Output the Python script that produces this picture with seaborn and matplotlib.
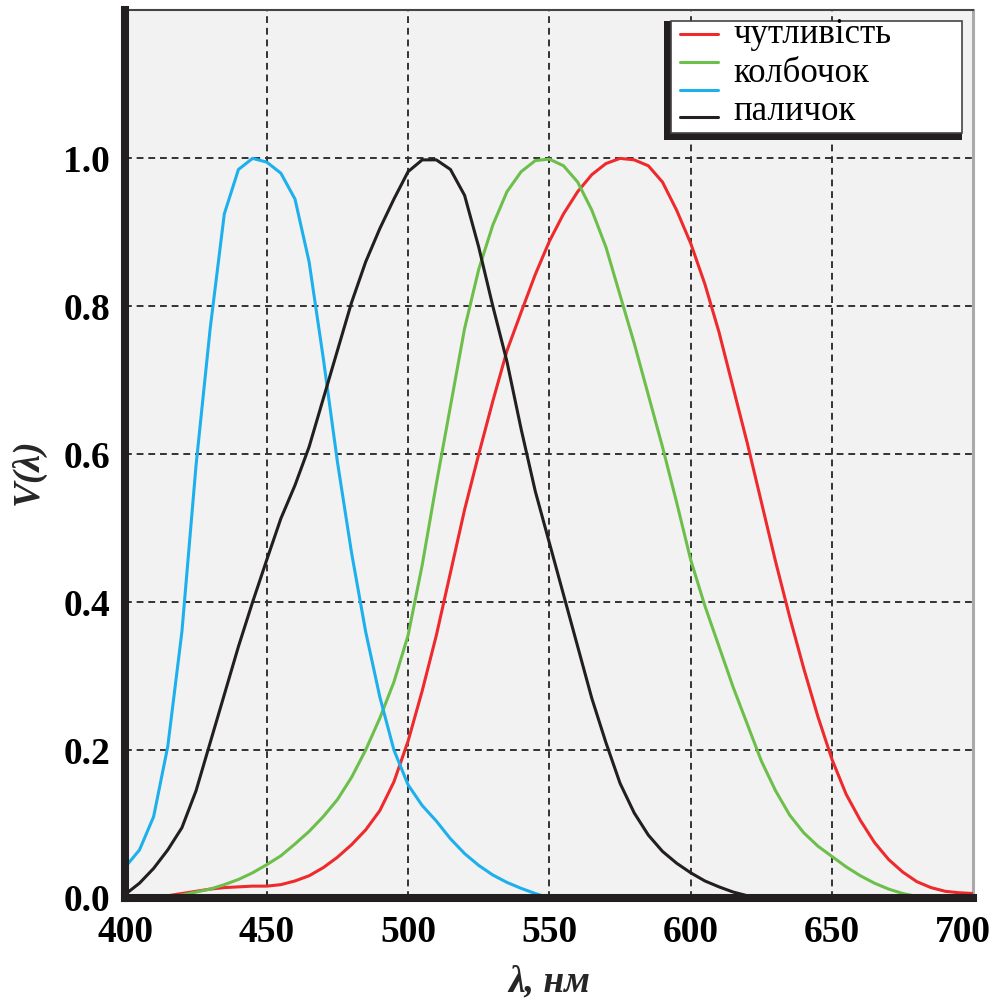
import numpy as np
import pandas as pd
import matplotlib
matplotlib.use("Agg")
import matplotlib.pyplot as plt
from matplotlib.patches import Rectangle
from matplotlib.lines import Line2D
from matplotlib.transforms import ScaledTranslation
import seaborn as sns

# ---------------- data ----------------
wl_red = list(range(400, 705, 5))
red = [0.000, 0.000, 0.001, 0.003, 0.006, 0.009, 0.012, 0.014, 0.015, 0.016,
       0.016, 0.018, 0.023, 0.030, 0.041, 0.055, 0.072, 0.092, 0.118, 0.157,
       0.212, 0.280, 0.355, 0.440, 0.525, 0.600, 0.672, 0.740, 0.792, 0.843,
       0.888, 0.925, 0.955, 0.978, 0.993, 1.000, 0.998, 0.990, 0.968, 0.930,
       0.885, 0.830, 0.765, 0.690, 0.615, 0.535, 0.455, 0.380, 0.310, 0.245,
       0.187, 0.140, 0.105, 0.075, 0.052, 0.035, 0.022, 0.014, 0.009, 0.007,
       0.006]

wl_green = list(range(400, 690, 5))
green = [0.000, 0.000, 0.000, 0.001, 0.004, 0.008, 0.012, 0.018, 0.025, 0.034,
         0.045, 0.057, 0.073, 0.090, 0.110, 0.133, 0.163, 0.200, 0.243, 0.292,
         0.355, 0.450, 0.560, 0.665, 0.770, 0.850, 0.910, 0.955, 0.982, 0.997,
         0.999, 0.990, 0.968, 0.930, 0.880, 0.815, 0.750, 0.680, 0.610, 0.535,
         0.457, 0.395, 0.340, 0.285, 0.235, 0.185, 0.145, 0.112, 0.088, 0.070,
         0.056, 0.042, 0.030, 0.020, 0.012, 0.006, 0.002, 0.000]

wl_blue = list(range(400, 555, 5))
blue = [0.042, 0.065, 0.110, 0.205, 0.360, 0.585, 0.770, 0.925, 0.985, 1.000,
        0.995, 0.980, 0.945, 0.860, 0.730, 0.590, 0.467, 0.360, 0.272, 0.200,
        0.153, 0.125, 0.104, 0.080, 0.060, 0.044, 0.031, 0.021, 0.013, 0.006,
        0.000]

wl_black = list(range(400, 630, 5))
black = [0.005, 0.020, 0.040, 0.065, 0.095, 0.145, 0.210, 0.275, 0.340, 0.400,
         0.457, 0.513, 0.558, 0.610, 0.675, 0.740, 0.805, 0.860, 0.905, 0.945,
         0.982, 0.998, 0.998, 0.985, 0.950, 0.880, 0.800, 0.725, 0.634, 0.550,
         0.480, 0.410, 0.340, 0.270, 0.210, 0.155, 0.115, 0.085, 0.063, 0.047,
         0.034, 0.023, 0.015, 0.008, 0.003, 0.000]

legend_labels = ["чутливість", "колбочок", "паличок"]
x_ticks = [400, 450, 500, 550, 600, 650, 700]
y_ticks = [0.0, 0.2, 0.4, 0.6, 0.8, 1.0]
y_ticklabels = ["0.0", "0.2", "0.4", "0.6", "0.8", "1.0"]
x_label = "λ, нм"
y_label = "V(λ)"

colors = {"red": "#ee2a2c", "green": "#6dbf4b", "blue": "#1db0ec", "black": "#231f20"}

# ---------------- style ----------------
sns.set_theme(style="white")
plt.rcParams["font.family"] = ["Liberation Serif", "DejaVu Serif"]

fig = plt.figure(figsize=(9.99, 10.06), dpi=100)
ax = fig.add_axes([0.1255, 0.1074, 0.8489, 0.8822])
ax.set_facecolor("#f2f2f2")
fig.patch.set_facecolor("white")

series = [
    (wl_red, red, colors["red"]),
    (wl_green, green, colors["green"]),
    (wl_blue, blue, colors["blue"]),
    (wl_black, black, colors["black"]),
]
handles = []
for wl, vals, col in series:
    df = pd.DataFrame({"wl": wl, "v": vals})
    sns.lineplot(data=df, x="wl", y="v", color=col, linewidth=2.2, ax=ax,
                 zorder=3, sort=False, solid_joinstyle="round",
                 solid_capstyle="round")
    handles.append(Line2D([], [], color=col, linewidth=2.2))

ax.set_xlim(400, 700)
ax.set_ylim(0, 1.2)
ax.set_xticks(x_ticks)
ax.set_yticks(y_ticks)
ax.set_yticklabels(y_ticklabels)

ax.grid(True, color="#333333", linewidth=1.4, linestyle=(0, (3.5, 2.5)))
ax.set_axisbelow(True)
ax.tick_params(axis="both", length=0, labelsize=27, colors="black")
ax.tick_params(axis="x", pad=12)
ax.tick_params(axis="y", pad=11)
for lab in ax.get_xticklabels() + ax.get_yticklabels():
    lab.set_fontweight("bold")
# last x tick label sits slightly left so it stays inside the figure
last = ax.get_xticklabels()[-1]
last.set_transform(last.get_transform() +
                   ScaledTranslation(-0.11, 0, fig.dpi_scale_trans))

for side in ["left", "bottom"]:
    ax.spines[side].set_linewidth(5.8)
    ax.spines[side].set_color("#231f20")
    ax.spines[side].set_zorder(4)
ax.spines["top"].set_linewidth(1.5)
ax.spines["top"].set_color("#444444")
ax.spines["right"].set_linewidth(2.2)
ax.spines["right"].set_color("#aaaaaa")

ax.set_xlabel(x_label, fontsize=27, fontweight="bold", fontstyle="italic")
ax.set_ylabel(y_label, fontsize=27, fontweight="bold", fontstyle="italic")
ax.xaxis.set_label_coords(0.5, -0.0745)
ax.yaxis.set_label_coords(-0.094, 0.48)

# ---------------- legend box ----------------
ax.add_patch(Rectangle((0.6351, 0.854), 0.9866 - 0.6351, 0.9885 - 0.854,
                       transform=ax.transAxes, facecolor="#231f20",
                       edgecolor="none", zorder=5, clip_on=False))
ax.add_patch(Rectangle((0.6428, 0.8614), 0.9866 - 0.6428, 0.9885 - 0.8614,
                       transform=ax.transAxes, facecolor="white",
                       edgecolor="#444444", linewidth=1.2, zorder=5.5,
                       clip_on=False))
leg = ax.legend(handles, [" "] * 4, loc="upper left",
                bbox_to_anchor=(0.6538, 0.9817), frameon=False,
                fontsize=16, handlelength=1.71, labelspacing=0.315,
                borderpad=0, borderaxespad=0, handletextpad=0.2)
leg.set_zorder(6)
for txt, y in zip(legend_labels, [0.9630, 0.9198, 0.8766]):
    ax.text(0.7165, y, txt, transform=ax.transAxes, fontsize=25,
            va="baseline", ha="left", color="black", zorder=7)

fig.savefig("out.png", dpi=100, facecolor="white")
